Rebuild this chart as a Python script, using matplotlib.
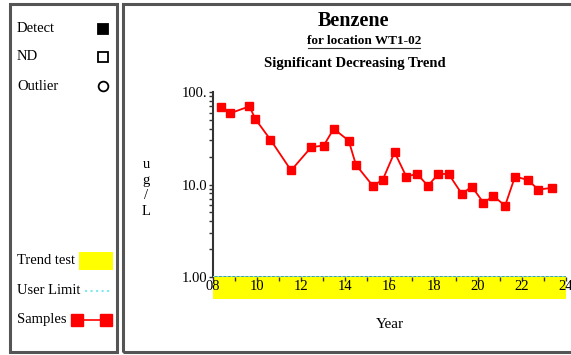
import matplotlib.pyplot as plt
import matplotlib.ticker as mticker
from matplotlib.patches import Rectangle
from matplotlib.lines import Line2D

# sample dates (decimal year) and concentrations (ug/L)
years = [2008.34, 2008.79, 2009.65, 2009.92, 2010.60, 2011.54, 2012.45, 2013.02,
         2013.47, 2014.15, 2014.48, 2015.24, 2015.69, 2016.23, 2016.76, 2017.25,
         2017.74, 2018.22, 2018.68, 2019.28, 2019.73, 2020.26, 2020.71, 2021.24,
         2021.69, 2022.27, 2022.75, 2023.35]
benzene = [69, 59, 70, 51, 30.6, 14.2, 25.3, 26.4,
           40, 29.8, 16.3, 9.7, 11.2, 22.3, 12.2, 13.0,
           9.7, 13.0, 13.0, 7.9, 9.5, 6.35, 7.5, 5.9,
           12.2, 11.2, 8.8, 9.2]
x_ticks = [2008, 2010, 2012, 2014, 2016, 2018, 2020, 2022, 2024]
x_tick_labels = ['08', '10', '12', '14', '16', '18', '20', '22', '24']
y_ticks = [1, 10, 100]
y_tick_labels = ['1.00', '10.0', '100.']
user_limit = 1.0

plt.rcParams['font.family'] = ['Liberation Serif', 'DejaVu Serif']

W, H = 571, 355
fig = plt.figure(figsize=(W / 100, H / 100), dpi=100)

def fx(px):
    return px / W

def fy(py):
    return 1 - py / H

# panel borders
for x0, x1 in [(10, 117), (123, 575)]:
    fig.patches.append(Rectangle((fx(x0), fy(352)), fx(x1 - x0), (352 - 4) / H,
                                 transform=fig.transFigure, fill=False,
                                 edgecolor='#555555', lw=2.2))

# legend panel
leg_fs = 10.5
for label, yy, mk, fc in [('Detect', 29, 's', 'black'), ('ND', 57, 's', 'white'),
                          ('Outlier', 86, 'o', 'white')]:
    fig.text(fx(17), fy(yy), label, fontsize=leg_fs, va='center')
    fig.lines.append(Line2D([fx(103)], [fy(yy)], transform=fig.transFigure,
                            marker=mk, ms=7, mfc=fc, mec='black', mew=1.3, ls='none'))

fig.text(fx(17), fy(261), 'Trend test', fontsize=leg_fs, va='center')
fig.patches.append(Rectangle((fx(79), fy(270)), fx(34), 18 / H, transform=fig.transFigure,
                             facecolor='yellow', edgecolor='none'))
fig.text(fx(17), fy(291), 'User Limit', fontsize=leg_fs, va='center')
fig.lines.append(Line2D([fx(85), fx(112)], [fy(291), fy(291)], transform=fig.transFigure,
                        color='#7fe8f0', ls=':', lw=1.5))
fig.text(fx(17), fy(320), 'Samples', fontsize=leg_fs, va='center')
fig.lines.append(Line2D([fx(77), fx(106)], [fy(320), fy(320)], transform=fig.transFigure,
                        color='red', lw=1.2, marker='s', ms=8, mfc='red', mec='red'))

# titles
fig.text(fx(353), fy(21), 'Benzene', fontsize=14.5, fontweight='bold', ha='center', va='center')
fig.text(fx(364), fy(41), 'for location WT1-02', fontsize=9.5, fontweight='bold',
         ha='center', va='center')
fig.lines.append(Line2D([fx(308), fx(420)], [fy(48), fy(48)], transform=fig.transFigure,
                        color='#333333', lw=0.8))
fig.text(fx(355), fy(63), 'Significant Decreasing Trend', fontsize=10.5, fontweight='bold',
         ha='center', va='center')

# main plot
ax = fig.add_axes([fx(213), fy(277), fx(566 - 213), (277 - 92) / H])
ax.set_yscale('log')
ax.set_ylim(1, 100)
ax.set_xlim(2008, 2024)

ax.plot(years, benzene, color='red', lw=1.3, marker='s', ms=6, mfc='red', mec='red',
        zorder=5, clip_on=False)
ax.axhline(user_limit, color='#2a8f7a', lw=1.2, zorder=3)
ax.axhline(user_limit, color='#8ff0f0', lw=1.2, ls=':', zorder=4)

# trend test band under the axis
ax.add_patch(Rectangle((0, -22 / 185), 1, 22 / 185, transform=ax.transAxes,
                       facecolor='yellow', edgecolor='none', clip_on=False, zorder=0))

for s in ['top', 'right', 'bottom']:
    ax.spines[s].set_visible(False)
ax.spines['left'].set_color('#333333')
ax.spines['left'].set_linewidth(1.5)

ax.set_xticks(x_ticks)
ax.set_xticklabels(x_tick_labels)
ax.xaxis.set_minor_locator(mticker.MultipleLocator(1))
ax.tick_params(axis='x', which='major', length=3, width=1, direction='out', pad=-1,
               labelsize=10.5, color='#333333')
ax.tick_params(axis='x', which='minor', length=3, width=1, direction='out', color='#333333')

ax.set_yticks(y_ticks)
ax.set_yticklabels(y_tick_labels)
ax.yaxis.set_minor_locator(mticker.LogLocator(base=10, subs=range(2, 10)))
ax.yaxis.set_minor_formatter(mticker.NullFormatter())
ax.tick_params(axis='y', which='major', length=3, width=1, direction='out', pad=1,
               labelsize=10.5, color='#333333')
ax.tick_params(axis='y', which='minor', length=3, width=1, direction='out', color='#333333')

fig.text(fx(146), fy(188), 'u\ng\n/\nL', fontsize=10.5, ha='center', va='center',
         linespacing=1.25)
fig.text(fx(390), fy(324), 'Year', fontsize=11, ha='center', va='center')

fig.savefig('out.png', dpi=100)
